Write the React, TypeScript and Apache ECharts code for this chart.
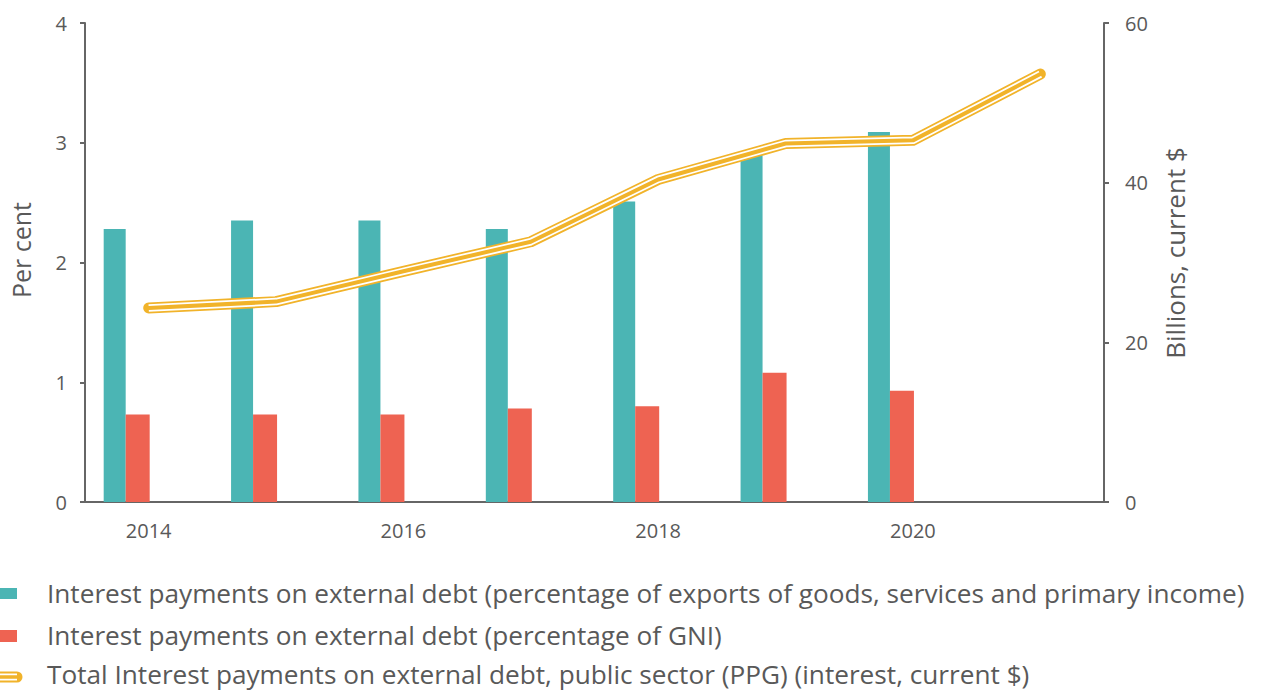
import React, { useEffect, useRef } from "react";
import * as echarts from "echarts";

const years = ["2014", "2015", "2016", "2017", "2018", "2019", "2020", "2021"];
const pctExports = [2.28, 2.35, 2.35, 2.28, 2.51, 2.91, 3.09, null];
const pctGNI = [0.73, 0.73, 0.73, 0.78, 0.8, 1.08, 0.93, null];
const totalInterest = [24.3, 25.1, 28.9, 32.6, 40.4, 44.9, 45.3, 53.6];
const emptySlot = years.map(() => null);

const seriesNames = [
  "Interest payments on external debt (percentage of exports of goods, services and primary income)",
  "Interest payments on external debt (percentage of GNI)",
  "Total Interest payments on external debt, public sector (PPG) (interest, current $)",
];

const TEAL = "#4BB5B4";
const RED = "#EE6352";
const YELLOW = "#F1B32A";
const TEXT = "#595959";
const AXIS = "#666666";
const FONT = "'Open Sans'";

export default function App() {
  const ref = useRef<HTMLDivElement>(null);
  useEffect(() => {
    document.body.style.margin = "0";
    const chart = echarts.init(ref.current!, null, { renderer: "svg" });
    const legendRow = (i: number, cy: number) => ({
      type: "text",
      x: 47,
      y: cy,
      style: {
        text: seriesNames[i],
        fill: TEXT,
        font: `26.2px ${FONT}`,
        lineHeight: 26,
        verticalAlign: "middle",
      },
    });
    chart.setOption({
      animation: false,
      textStyle: { fontFamily: FONT },
      grid: { left: 85, right: 157, top: 23, bottom: 191, containLabel: false },
      xAxis: {
        type: "category",
        data: years,
        boundaryGap: true,
        axisLine: { lineStyle: { color: AXIS, width: 2 } },
        axisTick: { show: false },
        axisLabel: { interval: 1, color: TEXT, fontSize: 20, margin: 18, fontFamily: FONT },
      },
      yAxis: [
        {
          type: "value",
          min: 0,
          max: 4,
          interval: 1,
          splitLine: { show: false },
          axisLine: { show: true, lineStyle: { color: AXIS, width: 2 } },
          axisTick: { show: true, length: 5, lineStyle: { color: AXIS, width: 2 } },
          axisLabel: { color: TEXT, fontSize: 20, margin: 18, fontFamily: FONT },
        },
        {
          type: "value",
          position: "right",
          min: 0,
          max: 60,
          interval: 20,
          splitLine: { show: false },
          axisLine: { show: true, lineStyle: { color: AXIS, width: 2 } },
          axisTick: { show: true, length: 5, lineStyle: { color: AXIS, width: 2 } },
          axisLabel: { color: TEXT, fontSize: 20, margin: 21, fontFamily: FONT },
        },
      ],
      series: [
        {
          name: seriesNames[0],
          type: "bar",
          data: pctExports,
          barWidth: 22,
          barGap: "0%",
          itemStyle: { color: TEAL },
        },
        {
          name: seriesNames[1],
          type: "bar",
          data: pctGNI,
          barWidth: 24,
          barGap: "0%",
          itemStyle: { color: RED },
        },
        {
          name: "spacer",
          type: "bar",
          data: emptySlot,
          barWidth: 44,
          barGap: "0%",
          silent: true,
          itemStyle: { color: "transparent" },
        },
        {
          name: seriesNames[2],
          type: "line",
          yAxisIndex: 1,
          data: totalInterest,
          symbol: "none",
          lineStyle: { color: YELLOW, width: 11, cap: "round", join: "round" },
          z: 5,
        },
        {
          name: seriesNames[2] + " inner",
          type: "line",
          yAxisIndex: 1,
          data: totalInterest,
          symbol: "none",
          silent: true,
          lineStyle: { color: "#ffffff", width: 7.5, cap: "butt", join: "round" },
          z: 6,
        },
        {
          name: seriesNames[2] + " core",
          type: "line",
          yAxisIndex: 1,
          data: totalInterest,
          symbol: "none",
          silent: true,
          lineStyle: { color: YELLOW, width: 4, cap: "round", join: "round" },
          z: 7,
        },
      ],
      graphic: [
        {
          type: "text",
          x: 21,
          y: 250,
          rotation: Math.PI / 2,
          style: {
            text: "Per cent",
            fill: TEXT,
            font: `25px ${FONT}`,
            align: "center",
            verticalAlign: "middle",
          },
        },
        {
          type: "text",
          x: 1175,
          y: 253,
          rotation: Math.PI / 2,
          style: {
            text: "Billions, current $",
            fill: TEXT,
            font: `26px ${FONT}`,
            align: "center",
            verticalAlign: "middle",
          },
        },
        { type: "rect", x: 0, y: 588, shape: { width: 17, height: 11 }, style: { fill: TEAL } },
        legendRow(0, 593),
        { type: "rect", x: 0, y: 630, shape: { width: 17, height: 12 }, style: { fill: RED } },
        legendRow(1, 635),
        { type: "line", shape: { x1: 0, y1: 677, x2: 17, y2: 677 }, style: { stroke: YELLOW, lineWidth: 11, lineCap: "round" } },
        { type: "line", shape: { x1: 0, y1: 677, x2: 17, y2: 677 }, style: { stroke: "#ffffff", lineWidth: 7, lineCap: "butt" } },
        { type: "line", shape: { x1: 0, y1: 677, x2: 17, y2: 677 }, style: { stroke: YELLOW, lineWidth: 3.5, lineCap: "round" } },
        legendRow(2, 674),
      ],
    });
    return () => chart.dispose();
  }, []);
  return <div ref={ref} style={{ width: 1261, height: 693 }} />;
}
